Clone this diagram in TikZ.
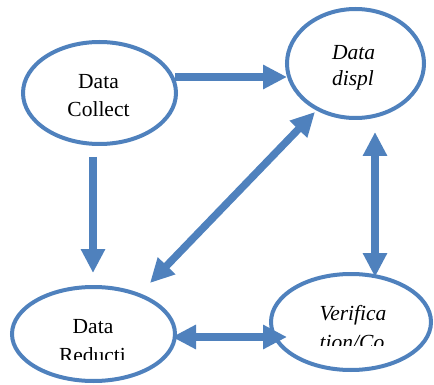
\documentclass[tikz,border=0pt]{standalone}
\usepackage{fontspec}
\setmainfont{Liberation Serif}
\usetikzlibrary{arrows.meta}
\definecolor{ablue}{HTML}{4F81BD}
\tikzset{
  bubble/.style={draw=ablue, line width=4pt, fill=white},
  txt/.style={inner sep=0pt, anchor=base, font=\fontsize{21.5}{27}\selectfont},
  itxt/.style={txt, font=\fontsize{21.5}{27}\selectfont\itshape},
  arr/.style={draw=ablue, line width=7.5pt, -{Triangle[length=24pt,width=23pt]}},
  darr/.style={draw=ablue, line width=7.5pt, {Triangle[length=24pt,width=23pt]}-{Triangle[length=24pt,width=23pt]}}
}
\begin{document}
\begin{tikzpicture}[x=1pt,y=-1pt]
\useasboundingbox (0,0) rectangle (434,385);
% ellipses
\path[bubble] (99.5,93) ellipse [x radius=76.5, y radius=51];
\path[bubble] (355.5,63.5) ellipse [x radius=68.5, y radius=54.5];
\path[bubble] (93.5,334) ellipse [x radius=81.5, y radius=47];
\path[bubble] (351,322) ellipse [x radius=80, y radius=48];
\node (e1) at (99.5,93) {};
\node (e2) at (355.5,63.5) {};
\node (e3) at (93.5,334) {};
\node (e4) at (351,322) {};
% texts
\node[txt] (t1a) at (98.5,89) {Data};
\node[txt] (t1b) at (98.5,117) {Collect};
\node[itxt] (t2a) at (353.5,60) {Data};
\node[itxt] (t2b) at (353,86) {displ};
\node[txt] (t3a) at (93,333) {Data};
\begin{scope}
  \clip (10,300) rectangle (180,359);
  \node[txt] (t3b) at (92.5,362) {Reducti};
\end{scope}
\node[itxt] (t4a) at (353,320) {Verifica};
\begin{scope}
  \clip (280,300) rectangle (430,345);
  \node[itxt] (t4b) at (352,349) {tion/Co};
\end{scope}
% connector end points
\coordinate (a1s) at (175,77);
\coordinate (a1e) at (287,77);
\coordinate (a2s) at (93,157);
\coordinate (a2e) at (93,273);
\coordinate (a3s) at (150,283);
\coordinate (a3e) at (315,112);
\coordinate (a4s) at (375,132);
\coordinate (a4e) at (375,277);
\coordinate (a5s) at (172,337);
\coordinate (a5e) at (287,337);
% arrows
\draw[arr] (a1s) -- (a1e);
\draw[arr] (a2s) -- (a2e);
\draw[darr] (a3s) -- (a3e);
\draw[darr] (a4s) -- (a4e);
\draw[darr] (a5s) -- (a5e);
\end{tikzpicture}
\end{document}
